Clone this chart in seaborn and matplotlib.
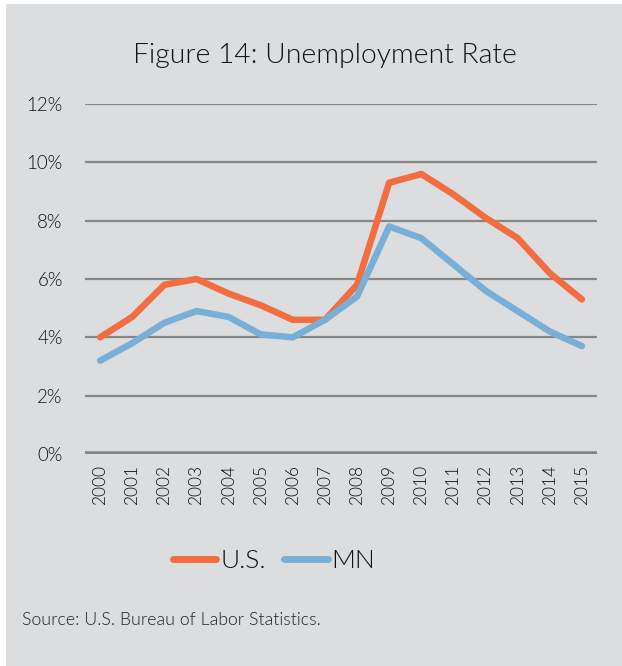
import pandas as pd
import matplotlib.pyplot as plt
import seaborn as sns
from matplotlib.patches import Rectangle
from matplotlib.lines import Line2D

years = list(range(2000, 2016))
us_rate = [4.0, 4.7, 5.8, 6.0, 5.5, 5.1, 4.6, 4.6, 5.8, 9.3, 9.6, 8.9, 8.1, 7.4, 6.2, 5.3]
mn_rate = [3.2, 3.8, 4.5, 4.9, 4.7, 4.1, 4.0, 4.6, 5.4, 7.8, 7.4, 6.5, 5.6, 4.9, 4.2, 3.7]
series_names = ['U.S.', 'MN']
series_colors = ['#f26d3f', '#79afd6']
y_ticks = [0, 2, 4, 6, 8, 10, 12]

df = pd.DataFrame({'Year': years * 2,
                   'Rate': us_rate + mn_rate,
                   'Series': ['U.S.'] * len(years) + ['MN'] * len(years)})

sns.set_style('white')
plt.rcParams['font.family'] = ['Lato', 'DejaVu Sans']
bg = '#dcdddf'
txt = '#111111'
thin = 300

fig = plt.figure(figsize=(6.22, 6.66), dpi=100, facecolor='white')
fig.patches.append(Rectangle((6 / 622, 0), 1, 1 - 4 / 666, transform=fig.transFigure,
                             facecolor=bg, edgecolor='none', zorder=-5))
ax = fig.add_axes([85 / 622, 1 - 454 / 666, (597 - 85) / 622, (454 - 104) / 666])
ax.set_facecolor('none')

for y in y_ticks[1:]:
    ax.axhline(y, color='#878787', lw=1.6, zorder=1)
ax.axhline(0, color='#858585', lw=4, zorder=1)

sns.lineplot(data=df, x='Year', y='Rate', hue='Series', hue_order=series_names,
             palette=series_colors, lw=4.7, ax=ax, legend=False, zorder=3)
for line in ax.lines:
    line.set_solid_capstyle('round')
    line.set_solid_joinstyle('round')

ax.set_xlim(years[0] - 0.47, years[-1] + 0.47)
ax.set_ylim(0, 12)
ax.set_yticks(y_ticks)
ax.set_yticklabels([f'{v}%' for v in y_ticks], fontsize=13.5, color=txt, fontweight=thin)
ax.set_xticks(years)
ax.set_xticklabels([str(y) for y in years], rotation=90, fontsize=12.5, color=txt,
                   fontweight=thin)
ax.tick_params(axis='y', length=0, pad=16)
ax.tick_params(axis='x', length=0, pad=8)
ax.set_xlabel('')
ax.set_ylabel('')
for s in ax.spines.values():
    s.set_visible(False)

fig.text(0.522, 1 - 55 / 666, 'Figure 14: Unemployment Rate', ha='center', va='center',
         fontsize=20.3, color=txt, fontweight=thin)

handles = [Line2D([0], [0], color=c, lw=5, solid_capstyle='round') for c in series_colors]
fig.legend(handles, series_names, loc='center', bbox_to_anchor=(274 / 622, 1 - 561 / 666),
           ncol=2, frameon=False, handlelength=1.65, handletextpad=0.15,
           columnspacing=0.7, labelcolor=txt,
           prop={'size': 19, 'weight': thin})

fig.text(22 / 622, 1 - 620 / 666, 'Source: U.S. Bureau of Labor Statistics.', ha='left',
         va='center', fontsize=12.8, color='#222222', fontweight=thin)

fig.savefig('out.png', dpi=100, facecolor='white')
